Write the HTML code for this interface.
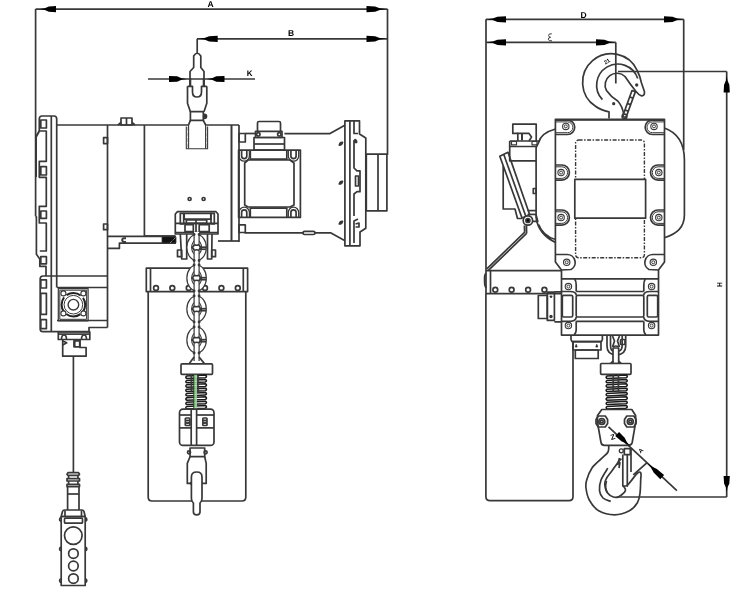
<!DOCTYPE html>
<html><head><meta charset="utf-8"><style>
html,body{margin:0;padding:0;background:#fff;}
text{text-rendering:geometricPrecision;}
svg{display:block;will-change:transform;}
</style></head><body>
<svg width="750" height="599" viewBox="0 0 750 599" font-family="'Liberation Sans', sans-serif">
<g fill="none" stroke="#383838" stroke-width="1.7" stroke-linejoin="round">
<line x1="35.6" y1="9.1" x2="387.5" y2="9.1"/>
<path d="M40.00,9.10 L44.80,8.32 L48.80,6.46 L56.00,6.00 L56.00,12.20 L48.80,11.73 L44.80,9.88 Z" fill="#000" stroke="none"/>
<path d="M385.50,9.10 L379.80,9.88 L375.05,11.73 L366.50,12.20 L366.50,6.00 L375.05,6.46 L379.80,8.32 Z" fill="#000" stroke="none"/>
<text fill="#000" stroke="none" font-weight="bold" x="207.5" y="6.5" font-size="8.5" >A</text>
<line x1="387.5" y1="9" x2="387.5" y2="155"/>
<line x1="197" y1="38.8" x2="387.5" y2="38.8"/>
<path d="M198.70,38.80 L204.40,38.02 L209.15,36.16 L217.70,35.70 L217.70,41.90 L209.15,41.43 L204.40,39.57 Z" fill="#000" stroke="none"/>
<path d="M385.50,38.80 L379.80,39.57 L375.05,41.43 L366.50,41.90 L366.50,35.70 L375.05,36.16 L379.80,38.02 Z" fill="#000" stroke="none"/>
<text fill="#000" stroke="none" font-weight="bold" x="288" y="36" font-size="8.5" >B</text>
<line x1="197.2" y1="38.8" x2="197.2" y2="53"/>
<line x1="148" y1="79" x2="255" y2="79"/>
<path d="M187.00,79.00 L181.60,79.78 L177.10,81.64 L169.00,82.10 L169.00,75.90 L177.10,76.36 L181.60,78.22 Z" fill="#000" stroke="none"/>
<path d="M206.50,79.00 L211.90,78.22 L216.40,76.36 L224.50,75.90 L224.50,82.10 L216.40,81.64 L211.90,79.78 Z" fill="#000" stroke="none"/>
<text fill="#000" stroke="none" font-weight="bold" x="246.8" y="76.2" font-size="8" >K</text>
<path d="M190,86 L190,71.5 L193.7,67.5 L193.7,56 Q197.2,50.5 200.8,56 L200.8,67.5 L204,71.5 L204,86" />
<path d="M187.5,86.3 L192.5,86.3 L192.5,92 Q192.5,97 197,97 Q201.5,97 201.5,92 L201.5,86.3 L206.8,86.3" />
<line x1="190.2" y1="78" x2="190.2" y2="86" stroke-width="2.2"/>
<line x1="203.8" y1="78" x2="203.8" y2="86" stroke-width="2.2"/>
<path d="M187.5,86.3 L187.5,103.3 L190.4,111.7 M206.8,86.3 L206.8,103.3 L204,111.7" />
<rect x="190.4" y="111.7" width="12.9" height="8.7" />
<path d="M204.5,114.3 A2,2 0 0 1 204.5,118.3 Z" fill="#000"/>
<path d="M190.4,120.4 L188.5,125 M203.3,120.4 L205.7,125" />
<path d="M186.3,126.5 L186.3,148.7 L207.6,148.7 L207.6,126.5" stroke-width="1.1"/>
<line x1="188.6" y1="125" x2="188.6" y2="148.7" stroke-width="1.1"/>
<line x1="205.6" y1="125" x2="205.6" y2="148.7" stroke-width="1.1"/>
<line x1="187.45" y1="127" x2="187.45" y2="148" stroke-width="0.5" stroke="#888" stroke-dasharray="4 1.5"/>
<line x1="206.6" y1="127" x2="206.6" y2="148" stroke-width="0.5" stroke="#888" stroke-dasharray="4 1.5"/>
<path d="M39.3,131 L39.3,119 Q39.3,116 42,116 L54,116 Q56.7,116 56.7,119 L56.7,287.5" />
<line x1="51.3" y1="116" x2="51.3" y2="332"/>
<line x1="35.6" y1="9" x2="35.6" y2="216.3"/>
<path d="M35.6,216.3 L36.4,217 L36.4,254.3 L39.8,259 L39.8,266.3 L46,266.3 L46,276" />
<path d="M39.3,131 L36,137 L36,177" stroke-width="2"/>
<rect x="40.8" y="120" width="5.6" height="8" />
<rect x="40.8" y="166.7" width="5.6" height="8.3" />
<rect x="40.8" y="211" width="5.6" height="7.3" />
<rect x="40.8" y="256.7" width="5.6" height="7.1" />
<rect x="40.8" y="279.8" width="5.6" height="8.2" />
<rect x="40.8" y="319.7" width="5.6" height="9.0" />
<rect x="40.8" y="293.3" width="5.6" height="21.1" />
<path d="M39.3,131 L46.3,131 L46.3,161.3 L39.3,161.3 L39.3,177.3 L46.3,177.3 L46.3,206.3 L39.3,206.3 L39.3,223 L46.3,223 L46.3,251 L39.8,251" />
<line x1="57" y1="125" x2="188.5" y2="125"/>
<line x1="205.7" y1="125" x2="239" y2="125"/>
<line x1="107.5" y1="125" x2="107.5" y2="327.5"/>
<line x1="144.4" y1="125" x2="144.4" y2="236"/>
<line x1="231.5" y1="125" x2="231.5" y2="241" stroke-width="2"/>
<line x1="239" y1="125" x2="239" y2="242"/>
<line x1="144.4" y1="236" x2="175" y2="236"/>
<line x1="218" y1="241" x2="239" y2="241"/>
<rect x="121" y="118" width="11" height="7" />
<line x1="126.5" y1="118" x2="126.5" y2="125"/>
<path d="M118,125 L121,122.5 M132,122.5 L135,125" />
<rect x="103.6" y="137.6" width="3.9" height="6.0" />
<rect x="103.6" y="224" width="3.9" height="5.7" />
<circle cx="189.6" cy="199" r="1.5" />
<circle cx="203.6" cy="199" r="1.5" />
<line x1="57" y1="287.5" x2="107.5" y2="287.5"/>
<path d="M40.2,279 Q40.2,276 43,276 L107.5,276 M40.2,279 L40.2,329 Q40.2,331.7 43,331.7 L89,331.7 L89,327.5 L107.5,327.5" />
<line x1="57" y1="320.5" x2="107.5" y2="320.5"/>
<rect x="58.3" y="288.7" width="29.8" height="32.1" stroke-width="1.2"/>
<rect x="59.8" y="290.2" width="26.8" height="29.1" stroke-width="1"/>
<circle cx="73.4" cy="304.7" r="11.8" stroke-width="2" stroke="#222" stroke-dasharray="15.2 3.3" stroke-dashoffset="7.6"/>
<circle cx="73.4" cy="304.7" r="9.3" stroke-width="1"/>
<circle cx="73.4" cy="304.7" r="5.3" stroke-width="1.4"/>
<circle cx="63.4" cy="293.4" r="2.5" fill="#fff" stroke-width="1.1"/>
<circle cx="83.4" cy="293.4" r="2.5" fill="#fff" stroke-width="1.1"/>
<circle cx="63.4" cy="313.4" r="2.5" fill="#fff" stroke-width="1.1"/>
<circle cx="83.4" cy="313.4" r="2.5" fill="#fff" stroke-width="1.1"/>
<rect x="58.3" y="331.9" width="31.5" height="7.6" />
<line x1="58.3" y1="334.1" x2="89.8" y2="334.1"/>
<path d="M61.5,339.5 Q61.5,335 64,335 Q66.5,335 66.5,339.5 M81.5,339.5 Q81.5,335 84,335 Q86.5,335 86.5,339.5" />
<path d="M62.7,339.5 L62.7,356.2 L86.1,356.2 L86.1,347.5 L80,347.5 L80,339.5" />
<rect x="74" y="340.8" width="5.7" height="6.0" />
<line x1="74.6" y1="340.8" x2="74.6" y2="346.8" stroke-width="2"/>
<path d="M62.7,341 L66.7,342.8 L62.7,345" />
<line x1="73.4" y1="356.2" x2="73.4" y2="472"/>
<path d="M68,475.3 L67,474.3 L68,472.6 L78.5,472.6 L79.5,474.3 L78.5,475.3 Z" />
<path d="M68.6,475.3 L68.6,478.6 M77.9,475.3 L77.9,478.6" />
<path d="M67,478.6 L79.5,478.6 L79.5,481 L67,481 Z" />
<path d="M68.6,481 L68.6,484.4 M77.9,481 L77.9,484.4" />
<path d="M67,484.4 L79.5,484.4 L79.5,486.6 L67,486.6 Z" />
<path d="M67.6,486.6 L67.6,510 M79,486.6 L79,510" />
<line x1="67.6" y1="494" x2="79" y2="494"/>
<path d="M61.2,516.5 L62.5,511.5 Q63,510 64.5,510 L82,510 Q83.5,510 84,511.5 L85.2,516.5 Z" />
<line x1="65" y1="510.5" x2="65" y2="516.5"/>
<line x1="81.5" y1="510.5" x2="81.5" y2="516.5"/>
<rect x="61.2" y="516.5" width="24.0" height="69.0" />
<rect x="64.5" y="518.2" width="18.0" height="5.0" rx="1"/>
<circle cx="73.3" cy="535.6" r="8.8" />
<circle cx="73.4" cy="553.6" r="4.8" />
<circle cx="73.4" cy="566" r="4.8" />
<circle cx="73.4" cy="578.6" r="4.8" />
<path d="M61.2,517.9 A1.6,1.6 0 0 0 61.2,521.1" />
<path d="M85.2,517.9 A1.6,1.6 0 0 1 85.2,521.1" />
<path d="M61.2,547.4 A1.6,1.6 0 0 0 61.2,550.6" />
<path d="M85.2,547.4 A1.6,1.6 0 0 1 85.2,550.6" />
<path d="M61.2,579.1 A1.6,1.6 0 0 0 61.2,582.3000000000001" />
<path d="M85.2,579.1 A1.6,1.6 0 0 1 85.2,582.3000000000001" />
<line x1="107.5" y1="236.4" x2="176" y2="236.4"/>
<path d="M107.5,248.4 L119.4,248.4 L119.4,243.2 L176,243.2" />
<path d="M162,236.8 L176,236.8 L176,243 L162,243 Z" fill="#111" stroke-width="0.8"/>
<path d="M170,243 L176,237" stroke="#fff" stroke-width="0.7" stroke-dasharray="1 1"/>
<path d="M126,238.2 Q122.2,237.8 122.2,240 Q122.2,242.2 126,242" stroke-width="2"/>
<rect x="239" y="133.5" width="6.3" height="8.5" />
<rect x="239" y="224.9" width="6.3" height="7.6" />
<line x1="245.3" y1="133.5" x2="255.5" y2="133.5"/>
<path d="M257.5,131.5 L257.5,123 Q257.5,121.5 259,121.5 L279,121.5 Q280.5,121.5 280.5,123 L280.5,131.5" />
<rect x="255.5" y="131.3" width="26.5" height="6.2" />
<circle cx="258.3" cy="134.3" r="1.7" />
<circle cx="279.3" cy="134.3" r="1.7" />
<rect x="254" y="137.5" width="30.5" height="12.5" />
<line x1="254" y1="144" x2="284.5" y2="144"/>
<rect x="238.6" y="150.2" width="61.8" height="67.2" />
<path d="M244.7,163 L244.7,205 L248,207 L290,207 L294,205 L294,163 L290,160 L248,160 Z" />
<path d="M250.3,150.2 L250.3,159.2 L286.8,159.2 L286.8,150.2" />
<path d="M250.3,217.4 L250.3,208.2 L286.8,208.2 L286.8,217.4" />
<path d="M241.6,150.2 L241.6,156 A2.6,2.6 0 0 0 246.79999999999998,156 L246.79999999999998,150.2" />
<path d="M239.0,150.2 L239.0,156 A5.2,5.2 0 0 0 249.39999999999998,156 L249.39999999999998,150.2" stroke-width="1.3"/>
<path d="M290.9,150.2 L290.9,156 A2.6,2.6 0 0 0 296.1,156 L296.1,150.2" />
<path d="M288.3,150.2 L288.3,156 A5.2,5.2 0 0 0 298.7,156 L298.7,150.2" stroke-width="1.3"/>
<path d="M241.6,217.4 L241.6,212.4 A2.6,2.6 0 0 1 246.79999999999998,212.4 L246.79999999999998,217.4" />
<path d="M239.0,217.4 L239.0,212.4 A5.2,5.2 0 0 1 249.39999999999998,212.4 L249.39999999999998,217.4" stroke-width="1.3"/>
<path d="M290.9,217.4 L290.9,212.4 A2.6,2.6 0 0 1 296.1,212.4 L296.1,217.4" />
<path d="M288.3,217.4 L288.3,212.4 A5.2,5.2 0 0 1 298.7,212.4 L298.7,217.4" stroke-width="1.3"/>
<path d="M284.4,133.7 L329.6,133.7 L344.8,125.2" />
<path d="M244.6,232.9 L331,232.9 L345,240.7" />
<rect x="303" y="231.3" width="12" height="3.2" rx="1.6" fill="#fff"/>
<path d="M344.9,120.9 L359.5,120.9 L359.5,134 L365.8,138 L365.8,228.3 L360,232 L360,245.8 L344.9,245.8 Z" />
<line x1="349.9" y1="120.9" x2="349.9" y2="245.8"/>
<rect x="366.3" y="154.2" width="20.6" height="56.6" />
<line x1="378" y1="154.2" x2="378" y2="210.8"/>
<path d="M354,121 L354,133.5 L358,133.5 M354,140 L354,168 L357,170.8 L360,170.8 L360,191.7 L357,191.7 L354,194 L354,216 M358,219 L354,221 L354,243" />
<rect x="355.5" y="176" width="3.0" height="10" />
<path d="M355.5,224 L359,223 L359,227 L355.5,227" />
<path d="M339.3,145.1 Q340,142.1 342.5,142.4 Q342,145.1 339.3,145.1 Z" />
<path d="M339.3,184.0 Q340,181.0 342.5,181.3 Q342,184.0 339.3,184.0 Z" />
<path d="M339.3,224.0 Q340,221.0 342.5,221.3 Q342,224.0 339.3,224.0 Z" />
<path d="M355,139.5 Q357,140.5 356.5,142.5 L355,142.5 Z" />
<path d="M175.3,234 L175.3,214 L177.5,211.7 L216,211.7 L218,214 L218,234 Z" />
<rect x="184.2" y="213.3" width="26.6" height="5.9" />
<rect x="186.3" y="220" width="20.4" height="3.3" />
<line x1="175.3" y1="223.3" x2="218" y2="223.3"/>
<rect x="185" y="224.7" width="8.3" height="7.0" />
<rect x="199.2" y="224.7" width="10.0" height="7.0" />
<line x1="196" y1="219.5" x2="196" y2="232.5"/>
<line x1="175.3" y1="232.5" x2="218" y2="232.5"/>
<rect x="180.3" y="213.3" width="3.4" height="10.7" />
<rect x="211" y="213.3" width="3.3" height="10.7" />
<path d="M180.3,234 L181.7,259 L186.7,259 L186.7,234" />
<path d="M212,234 L211.7,259 L207.5,259 L207.5,234" />
<rect x="177.5" y="250" width="4.2" height="6.7" />
<rect x="211.7" y="250" width="3.8" height="6.7" />
<path d="M148.2,291.6 L148.2,497 Q148.2,501 152,501 L242,501 Q245.8,501 245.8,497 L245.8,291.6" />
<rect x="146.3" y="268.2" width="101.3" height="23.4" />
<line x1="150.5" y1="268.2" x2="150.5" y2="291.6"/>
<line x1="243.3" y1="268.2" x2="243.3" y2="291.6"/>
<circle cx="156" cy="288" r="2.4" />
<circle cx="172.3" cy="288" r="2.4" />
<circle cx="188.7" cy="288" r="2.4" />
<circle cx="205" cy="288" r="2.4" />
<circle cx="221.4" cy="288" r="2.4" />
<circle cx="237.8" cy="288" r="2.4" />
<ellipse cx="196.6" cy="247.5" rx="9.75" ry="13" fill="#fff" stroke-width="1.2"/>
<ellipse cx="196.6" cy="247.5" rx="4.9" ry="7.5" stroke-width="1.1"/>
<ellipse cx="196.6" cy="278" rx="9.75" ry="13" fill="#fff" stroke-width="1.2"/>
<ellipse cx="196.6" cy="278" rx="4.9" ry="7.5" stroke-width="1.1"/>
<ellipse cx="196.6" cy="309" rx="9.75" ry="13" fill="#fff" stroke-width="1.2"/>
<ellipse cx="196.6" cy="309" rx="4.9" ry="7.5" stroke-width="1.1"/>
<ellipse cx="196.6" cy="340" rx="9.75" ry="13" fill="#fff" stroke-width="1.2"/>
<ellipse cx="196.6" cy="340" rx="4.9" ry="7.5" stroke-width="1.1"/>
<rect x="194.1" y="232" width="5.0" height="128" fill="#fff" stroke="none"/>
<line x1="194.1" y1="235" x2="194.1" y2="244.5" stroke-width="1.2"/>
<line x1="199.1" y1="235" x2="199.1" y2="244.5" stroke-width="1.2"/>
<line x1="194.1" y1="250.5" x2="194.1" y2="275" stroke-width="1.2"/>
<line x1="199.1" y1="250.5" x2="199.1" y2="275" stroke-width="1.2"/>
<line x1="194.1" y1="281" x2="194.1" y2="306" stroke-width="1.2"/>
<line x1="199.1" y1="281" x2="199.1" y2="306" stroke-width="1.2"/>
<line x1="194.1" y1="312" x2="194.1" y2="337" stroke-width="1.2"/>
<line x1="199.1" y1="312" x2="199.1" y2="337" stroke-width="1.2"/>
<line x1="194.1" y1="343" x2="194.1" y2="361" stroke-width="1.2"/>
<line x1="199.1" y1="343" x2="199.1" y2="361" stroke-width="1.2"/>
<path d="M194.1,244.5 Q194.1,246.5 191.9,247.5 Q194.1,248.5 194.1,250.5" />
<path d="M199.1,244.5 Q199.1,246.5 201.4,247.5 Q199.1,248.5 199.1,250.5" />
<path d="M194.1,244.5 Q196.6,246.0 199.1,244.5 M194.1,250.5 Q196.6,249.0 199.1,250.5" />
<line x1="199.5" y1="247.2" x2="206" y2="247.2"/>
<line x1="199.5" y1="249.2" x2="206" y2="249.2"/>
<circle cx="194.1" cy="234.5" r="0.6" fill="#000"/>
<circle cx="199.1" cy="234.5" r="0.6" fill="#000"/>
<circle cx="194.1" cy="260.5" r="0.6" fill="#000"/>
<circle cx="199.1" cy="260.5" r="0.6" fill="#000"/>
<path d="M194.1,275 Q194.1,277 191.9,278 Q194.1,279 194.1,281" />
<path d="M199.1,275 Q199.1,277 201.4,278 Q199.1,279 199.1,281" />
<path d="M194.1,275 Q196.6,276.5 199.1,275 M194.1,281 Q196.6,279.5 199.1,281" />
<line x1="199.5" y1="277.7" x2="206" y2="277.7"/>
<line x1="199.5" y1="279.7" x2="206" y2="279.7"/>
<circle cx="194.1" cy="265" r="0.6" fill="#000"/>
<circle cx="199.1" cy="265" r="0.6" fill="#000"/>
<circle cx="194.1" cy="291" r="0.6" fill="#000"/>
<circle cx="199.1" cy="291" r="0.6" fill="#000"/>
<path d="M194.1,306 Q194.1,308 191.9,309 Q194.1,310 194.1,312" />
<path d="M199.1,306 Q199.1,308 201.4,309 Q199.1,310 199.1,312" />
<path d="M194.1,306 Q196.6,307.5 199.1,306 M194.1,312 Q196.6,310.5 199.1,312" />
<line x1="199.5" y1="308.7" x2="206" y2="308.7"/>
<line x1="199.5" y1="310.7" x2="206" y2="310.7"/>
<circle cx="194.1" cy="296" r="0.6" fill="#000"/>
<circle cx="199.1" cy="296" r="0.6" fill="#000"/>
<circle cx="194.1" cy="322" r="0.6" fill="#000"/>
<circle cx="199.1" cy="322" r="0.6" fill="#000"/>
<path d="M194.1,337 Q194.1,339 191.9,340 Q194.1,341 194.1,343" />
<path d="M199.1,337 Q199.1,339 201.4,340 Q199.1,341 199.1,343" />
<path d="M194.1,337 Q196.6,338.5 199.1,337 M194.1,343 Q196.6,341.5 199.1,343" />
<line x1="199.5" y1="339.7" x2="206" y2="339.7"/>
<line x1="199.5" y1="341.7" x2="206" y2="341.7"/>
<circle cx="194.1" cy="327" r="0.6" fill="#000"/>
<circle cx="199.1" cy="327" r="0.6" fill="#000"/>
<circle cx="194.1" cy="353" r="0.6" fill="#000"/>
<circle cx="199.1" cy="353" r="0.6" fill="#000"/>
<path d="M194.1,357 L189,363.9 M199.1,357 L204.6,363.9" />
<rect x="181" y="363.9" width="31.5" height="10.4" fill="#fff" rx="1"/>
<path d="M187.1,378.5 Q184.79999999999998,377.7 186.6,376.1 L205.7,375.1 Q207.5,376.7 205.2,377.7 Z" stroke-width="1.5" stroke="#1a1a1a"/>
<path d="M187.1,382.85 Q184.79999999999998,382.05 186.6,380.45000000000005 L205.7,379.45000000000005 Q207.5,381.05 205.2,382.05 Z" stroke-width="1.5" stroke="#1a1a1a"/>
<path d="M187.1,387.2 Q184.79999999999998,386.4 186.6,384.8 L205.7,383.8 Q207.5,385.4 205.2,386.4 Z" stroke-width="1.5" stroke="#1a1a1a"/>
<path d="M187.1,391.55 Q184.79999999999998,390.75 186.6,389.15000000000003 L205.7,388.15000000000003 Q207.5,389.75 205.2,390.75 Z" stroke-width="1.5" stroke="#1a1a1a"/>
<path d="M187.1,395.9 Q184.79999999999998,395.09999999999997 186.6,393.5 L205.7,392.5 Q207.5,394.09999999999997 205.2,395.09999999999997 Z" stroke-width="1.5" stroke="#1a1a1a"/>
<path d="M187.1,400.25 Q184.79999999999998,399.45 186.6,397.85 L205.7,396.85 Q207.5,398.45 205.2,399.45 Z" stroke-width="1.5" stroke="#1a1a1a"/>
<path d="M187.1,404.6 Q184.79999999999998,403.8 186.6,402.20000000000005 L205.7,401.20000000000005 Q207.5,402.8 205.2,403.8 Z" stroke-width="1.5" stroke="#1a1a1a"/>
<path d="M187.1,408.95 Q184.79999999999998,408.15 186.6,406.55 L205.7,405.55 Q207.5,407.15 205.2,408.15 Z" stroke-width="1.5" stroke="#1a1a1a"/>
<line x1="191.4" y1="374.3" x2="191.4" y2="391.7"/>
<line x1="198" y1="374.3" x2="198" y2="391.7"/>
<rect x="194.0" y="374.8" width="3" height="35.3" fill="#a5dca5" stroke="none" opacity="0.85"/>
<line x1="193.8" y1="374.3" x2="193.8" y2="410.1" stroke="#1d4d1d" stroke-width="1"/>
<rect x="179.5" y="409.2" width="34.5" height="36.2" rx="3.5"/>
<line x1="179.5" y1="415" x2="191.2" y2="415"/>
<line x1="196.6" y1="415" x2="214" y2="415"/>
<line x1="179.5" y1="427.9" x2="191.2" y2="427.9"/>
<line x1="196.6" y1="427.9" x2="214" y2="427.9"/>
<line x1="191.2" y1="409.2" x2="191.2" y2="445.4"/>
<line x1="196.6" y1="409.2" x2="196.6" y2="445.4"/>
<rect x="185.3" y="418.0" width="4.6" height="2.5" rx="0.8"/>
<rect x="185.3" y="420.5" width="4.6" height="2.5" rx="0.8"/>
<rect x="185.3" y="423.0" width="4.6" height="2.5" rx="0.8"/>
<rect x="202.8" y="418.0" width="4.2" height="2.5" rx="0.8"/>
<rect x="202.8" y="420.5" width="4.2" height="2.5" rx="0.8"/>
<rect x="202.8" y="423.0" width="4.2" height="2.5" rx="0.8"/>
<rect x="190" y="448" width="14.7" height="8.7" />
<circle cx="189" cy="452.3" r="1.5" />
<circle cx="205.6" cy="452.3" r="1.5" />
<path d="M190,456.7 L187.3,463.4 L187.3,483.4 L191.4,483.4 M204.7,456.7 L206.2,463.4 L206.2,483.4 L202,483.4" />
<path d="M191.4,483.4 L191.4,477 Q191.4,472 196.7,472 Q202,472 202,477 L202,498.5 Q202,501 200,503 L200,512 Q200,514.8 196.7,514.8 Q193.4,514.8 193.4,512 L193.4,503 Q191.4,501 191.4,498.5 Z" fill="#fff"/>
<path d="M191.4,485 L190.5,482" stroke-width="1.6"/>
<line x1="486" y1="19.3" x2="683.7" y2="19.3"/>
<path d="M487.00,19.30 L492.70,18.53 L497.45,16.66 L506.00,16.20 L506.00,22.40 L497.45,21.94 L492.70,20.07 Z" fill="#000" stroke="none"/>
<path d="M683.00,19.30 L677.30,20.07 L672.55,21.94 L664.00,22.40 L664.00,16.20 L672.55,16.66 L677.30,18.53 Z" fill="#000" stroke="none"/>
<text fill="#000" stroke="none" font-weight="bold" x="580.5" y="17.6" font-size="8.5" >D</text>
<line x1="486" y1="19.3" x2="486" y2="294"/>
<line x1="683.7" y1="19.3" x2="683.7" y2="150"/>
<line x1="486" y1="42.3" x2="615.8" y2="42.3"/>
<path d="M487.00,42.30 L492.70,41.52 L497.45,39.66 L506.00,39.20 L506.00,45.40 L497.45,44.93 L492.70,43.07 Z" fill="#000" stroke="none"/>
<path d="M615.00,42.30 L609.30,43.07 L604.55,44.93 L596.00,45.40 L596.00,39.20 L604.55,39.66 L609.30,41.52 Z" fill="#000" stroke="none"/>
<path d="M551.8,33.8 Q548.6,33.2 548.6,35.6 Q548.6,37.1 550.6,37.3 M550.6,37.3 Q548.3,37.5 548.3,39.2 Q548.5,41.2 552,40.9" stroke-width="1"/>
<line x1="615.8" y1="42.3" x2="615.8" y2="83.5"/>
<line x1="618" y1="71.5" x2="726.7" y2="71.5"/>
<line x1="726.7" y1="71.5" x2="726.7" y2="497"/>
<path d="M726.70,75.50 L727.48,80.60 L729.34,84.85 L729.80,92.50 L723.60,92.50 L724.07,84.85 L725.93,80.60 Z" fill="#000" stroke="none"/>
<path d="M726.70,492.50 L725.93,487.55 L724.07,483.43 L723.60,476.00 L729.80,476.00 L729.34,483.43 L727.48,487.55 Z" fill="#000" stroke="none"/>
<line x1="616.6" y1="497" x2="726.7" y2="497"/>
<text fill="#000" stroke="none" font-weight="bold" x="0" y="0" font-size="7.5" transform="translate(717.3,282.3) rotate(90) scale(0.85,1)">H</text>
<path d="M609,118.4 L609,111.8 Q601,110.5 595.5,106.3 A28.6,28.6 0 1 1 637.2,70.5 Q640,76 641.5,83 L644.4,91.5 Q645,96 641.5,95.8 Q639,95.3 636,91.5 Q630,84 625,76.5 A11.75,11.75 0 0 0 606.5,90.5 Q611,97 617.7,101 Q622.4,106 623.7,114.4" />
<path d="M602.4,99.7 A21.1,21.1 0 1 1 637.7,78.4" />
<text fill="#000" stroke="none" font-weight="bold" x="0" y="0" font-size="5.5" transform="translate(605.5,64.5) rotate(-32)">21</text>
<path d="M622.6,116.5 L632,90.5 L635.4,91.6 L626,117.5 Z" fill="#fff"/>
<line x1="624.95" y1="110.0" x2="628.35" y2="111.1"/>
<line x1="627.3" y1="103.5" x2="630.7" y2="104.6"/>
<line x1="629.65" y1="97.0" x2="633.05" y2="98.1"/>
<circle cx="624.5" cy="116.5" r="2.3" />
<circle cx="613.7" cy="103.7" r="0.8" fill="#000"/>
<circle cx="636.7" cy="85" r="0.8" fill="#000"/>
<path d="M555.4,119.3 L664.5,119.3 L664.5,262 L658.5,270 L658.5,335.1 L561.5,335.1 L561.5,270 L555.4,262 Z" />
<line x1="555.4" y1="119.8" x2="664.5" y2="119.8"/>
<path d="M555.5,129 Q541,133 538.7,142.3 L536.1,147.6 L536.1,218" />
<path d="M536.1,218 Q538.5,234 555.5,242.5 M538.6,224.5 Q543,236 555.5,239.5" />
<path d="M664.3,128 Q684.4,135 684.4,160 L684.4,215 Q684.4,232 664.3,237.7" />
<path d="M555.4,120.1 L567.5,120.1 A7.2,7.2 0 0 1 567.5,134.5 L555.4,134.5" />
<path d="M555.4,121.89999999999999 L567.5,121.89999999999999 A5.4,5.4 0 0 1 567.5,132.7 L555.4,132.7" stroke-width="1"/>
<circle cx="565.8" cy="126.4" r="3.2" stroke-width="1.1"/>
<circle cx="565.8" cy="126.4" r="1.5" stroke-width="1"/>
<path d="M664.5,120.1 L652.4,120.1 A7.2,7.2 0 0 0 652.4,134.5 L664.5,134.5" />
<path d="M664.5,121.89999999999999 L652.4,121.89999999999999 A5.4,5.4 0 0 0 652.4,132.7 L664.5,132.7" stroke-width="1"/>
<circle cx="654" cy="126.4" r="3.2" stroke-width="1.1"/>
<circle cx="654" cy="126.4" r="1.5" stroke-width="1"/>
<path d="M555.4,165.0 L561.8,165.0 A7.6,7.6 0 0 1 561.8,180.2 L555.4,180.2" />
<path d="M555.4,166.8 L561.8,166.8 A5.8,5.8 0 0 1 561.8,178.39999999999998 L555.4,178.39999999999998" stroke-width="1"/>
<circle cx="561.1" cy="172.6" r="3.2" stroke-width="1.1"/>
<circle cx="561.1" cy="172.6" r="1.5" stroke-width="1"/>
<path d="M664.5,165.0 L658.1,165.0 A7.6,7.6 0 0 0 658.1,180.2 L664.5,180.2" />
<path d="M664.5,166.8 L658.1,166.8 A5.8,5.8 0 0 0 658.1,178.39999999999998 L664.5,178.39999999999998" stroke-width="1"/>
<circle cx="658.8" cy="172.6" r="3.2" stroke-width="1.1"/>
<circle cx="658.8" cy="172.6" r="1.5" stroke-width="1"/>
<path d="M555.4,210.0 L561.8,210.0 A7.6,7.6 0 0 1 561.8,225.2 L555.4,225.2" />
<path d="M555.4,211.8 L561.8,211.8 A5.8,5.8 0 0 1 561.8,223.39999999999998 L555.4,223.39999999999998" stroke-width="1"/>
<circle cx="561.1" cy="217.6" r="3.2" stroke-width="1.1"/>
<circle cx="561.1" cy="217.6" r="1.5" stroke-width="1"/>
<path d="M664.5,210.0 L658.1,210.0 A7.6,7.6 0 0 0 658.1,225.2 L664.5,225.2" />
<path d="M664.5,211.8 L658.1,211.8 A5.8,5.8 0 0 0 658.1,223.39999999999998 L664.5,223.39999999999998" stroke-width="1"/>
<circle cx="658.8" cy="217.6" r="3.2" stroke-width="1.1"/>
<circle cx="658.8" cy="217.6" r="1.5" stroke-width="1"/>
<path d="M555.4,254.5 L567,254.5 A8,8 0 0 1 571,269.5 L561.5,270" />
<path d="M664.5,254.5 L653,254.5 A8,8 0 0 0 649,269.5 L658.5,270" />
<circle cx="566.7" cy="262.3" r="3.2" stroke-width="1.1"/>
<circle cx="566.7" cy="262.3" r="1.5" stroke-width="1"/>
<circle cx="653.3" cy="262.3" r="3.2" stroke-width="1.1"/>
<circle cx="653.3" cy="262.3" r="1.5" stroke-width="1"/>
<rect x="575.6" y="140" width="68.8" height="117.8" rx="3" stroke-width="1.4" stroke-dasharray="4 1.5 1.5 1.5"/>
<rect x="574.8" y="179.4" width="70.8" height="38.8" fill="#fff"/>
<path d="M518,133.4 L512.8,133.4 L512.8,124.1 L536.2,124.1 L536.2,141" />
<path d="M517.8,141 L517.8,133.4 L529,133.4 L531.5,137 L529,141" />
<line x1="522" y1="134" x2="522" y2="140.5" stroke-width="2"/>
<path d="M509.7,141 L538.7,141 L538.7,142.3 M509.7,141 L509.7,146.5 L536.6,146.5" />
<rect x="511.5" y="141.5" width="5.0" height="3.3" stroke-width="1.2"/>
<rect x="532" y="141.5" width="5" height="3.3" stroke-width="1.2"/>
<path d="M509.7,146.5 L509.7,160.8 L536.1,160.8" />
<path d="M499.8,156.2 L508,152.3 L529.7,214.7 L522,218 Z" />
<line x1="503.8" y1="154.5" x2="525.8" y2="216.3"/>
<path d="M503.2,166 L503.2,209 L515,209 L517.5,218.5 L522,218.5" />
<line x1="527.6" y1="210.6" x2="536" y2="210.6"/>
<line x1="527.6" y1="214.4" x2="536" y2="214.4"/>
<path d="M532,221.4 L537.8,221.4 L536,214.4" />
<rect x="533.3" y="188.5" width="2.8" height="5.0" />
<circle cx="527.9" cy="220.5" r="4.7" fill="#fff"/>
<circle cx="527.9" cy="220.5" r="2" fill="#000"/>
<path d="M524.4,225.5 L524.6,231.9 M526.5,225.5 L526.6,233.4" />
<path d="M486.8,268.9 L525,231.9 M488.4,270.4 L526.6,233.4" />
<path d="M486,270.7 L561.4,270.7 M486,293.7 L561.4,293.7" />
<line x1="490.5" y1="270.7" x2="490.5" y2="293.7"/>
<circle cx="495.3" cy="289.8" r="2.4" />
<circle cx="511.6" cy="289.8" r="2.4" />
<circle cx="528.1" cy="289.8" r="2.4" />
<circle cx="544.4" cy="289.8" r="2.4" />
<path d="M486,273.5 Q484.3,275 484.6,280 Q484.3,285 486,288" stroke-width="1.8"/>
<path d="M485.9,294 L485.9,496.5 Q485.9,500.6 490,500.6 L569,500.6 Q573,500.6 573,496.5 L573,342" />
<line x1="561.5" y1="278.8" x2="658.5" y2="278.8"/>
<line x1="576.2" y1="291.5" x2="643.8" y2="291.5"/>
<line x1="576.2" y1="321.3" x2="643.8" y2="321.3"/>
<rect x="576.2" y="295.3" width="67.6" height="21.7" rx="1.5"/>
<rect x="562.3" y="295.3" width="10.4" height="21.7" rx="1.5"/>
<rect x="647.3" y="295.3" width="10.4" height="21.7" rx="1.5"/>
<path d="M574.5,278.8 Q576.2,281 576.2,285 L576.2,291.5 M645.5,278.8 Q643.8,281 643.8,285 L643.8,291.5" />
<path d="M561.5,291.5 L570,291.5 Q576.2,291.5 576.2,295.3 M658.5,291.5 L650,291.5 Q643.8,291.5 643.8,295.3" />
<path d="M561.5,321.3 L570,321.3 Q576.2,321.3 576.2,317 M658.5,321.3 L650,321.3 Q643.8,321.3 643.8,317" />
<path d="M576.2,321.3 L576.2,330 Q576.2,333 574,335.1 M643.8,321.3 L643.8,330 Q643.8,333 646,335.1" />
<circle cx="568.4" cy="286.6" r="3.2" stroke-width="1.1"/>
<circle cx="568.4" cy="286.6" r="1.5" stroke-width="1"/>
<circle cx="651.6" cy="286.6" r="3.2" stroke-width="1.1"/>
<circle cx="651.6" cy="286.6" r="1.5" stroke-width="1"/>
<circle cx="568.4" cy="325.6" r="3.2" stroke-width="1.1"/>
<circle cx="568.4" cy="325.6" r="1.5" stroke-width="1"/>
<circle cx="651.6" cy="325.6" r="3.2" stroke-width="1.1"/>
<circle cx="651.6" cy="325.6" r="1.5" stroke-width="1"/>
<rect x="538.3" y="295.5" width="9.0" height="23.0" />
<rect x="547.3" y="292.1" width="7.1" height="28.2" />
<path d="M554.4,291.8 L561.5,291.8 M554.4,321.8 L561.5,321.8" />
<path d="M549.8,296 L552.2,296 L551,298 Z" fill="#000" stroke-width="0.8"/>
<circle cx="551" cy="316.5" r="0.9" fill="#000"/>
<path d="M571,335.1 L571,339.5 L572,341.7 L601.4,341.7 L602.4,339.5 L602.4,335.1" />
<rect x="573" y="341.7" width="28" height="8.3" />
<path d="M575.2,347 L576.2,344.3 L577.2,347 Z M595.8,347 L596.8,344.3 L597.8,347 Z" fill="#000" stroke-width="0.8"/>
<rect x="575.3" y="350" width="22.9" height="8.5" />
<path d="M607,335.1 L607,346 Q607,354.8 616.3,354.8 Q625.7,354.8 625.7,346 L625.7,335.1" />
<path d="M610.5,335.1 L610.5,345 Q610.5,350.5 613,351 M622.2,335.1 L622.2,345 Q622.2,350.5 618.7,351" />
<rect x="613" y="348" width="5.7" height="15.6" fill="#fff"/>
<path d="M612.5,336 L614.5,341 L612.5,347 M619.5,336 L617.5,341 L619.5,347" />
<path d="M613,347 Q616,345 618.7,347" />
<rect x="620.5" y="339.5" width="4.5" height="5.0" rx="1"/>
<path d="M613,361 L610.5,363.6 M618.7,361 L621.2,363.6" />
<rect x="600.6" y="363.5" width="30.4" height="10.8" fill="#fff" rx="1"/>
<path d="M607.4,378.5 Q605.1,377.7 606.9,376.1 L626.5,375.1 Q628.3,376.7 626,377.7 Z" stroke-width="1.5" stroke="#1a1a1a"/>
<path d="M607.4,382.85 Q605.1,382.05 606.9,380.45000000000005 L626.5,379.45000000000005 Q628.3,381.05 626,382.05 Z" stroke-width="1.5" stroke="#1a1a1a"/>
<path d="M607.4,387.2 Q605.1,386.4 606.9,384.8 L626.5,383.8 Q628.3,385.4 626,386.4 Z" stroke-width="1.5" stroke="#1a1a1a"/>
<path d="M607.4,391.55 Q605.1,390.75 606.9,389.15000000000003 L626.5,388.15000000000003 Q628.3,389.75 626,390.75 Z" stroke-width="1.5" stroke="#1a1a1a"/>
<path d="M607.4,395.9 Q605.1,395.09999999999997 606.9,393.5 L626.5,392.5 Q628.3,394.09999999999997 626,395.09999999999997 Z" stroke-width="1.5" stroke="#1a1a1a"/>
<path d="M607.4,400.25 Q605.1,399.45 606.9,397.85 L626.5,396.85 Q628.3,398.45 626,399.45 Z" stroke-width="1.5" stroke="#1a1a1a"/>
<path d="M607.4,404.6 Q605.1,403.8 606.9,402.20000000000005 L626.5,401.20000000000005 Q628.3,402.8 626,403.8 Z" stroke-width="1.5" stroke="#1a1a1a"/>
<path d="M607.4,408.95 Q605.1,408.15 606.9,406.55 L626.5,405.55 Q628.3,407.15 626,408.15 Z" stroke-width="1.5" stroke="#1a1a1a"/>
<line x1="613.2" y1="374.3" x2="613.2" y2="391.7"/>
<line x1="618.4" y1="374.3" x2="618.4" y2="391.7"/>
<path d="M601.8,409.5 L631.8,409.5 L635.6,415.5 L635.8,421.5 L632.2,442.5 Q631.5,445.3 628.5,445.3 L604.5,445.3 Q601.5,445.3 601,442.5 L597.3,421.5 L597.5,415.5 Z" fill="#fff"/>
<path d="M598.3,416.0 L605.3,416.0 L607.5999999999999,419.5 L607.5999999999999,423.5 L605.3,427.0 L598.3,427.0 L596.0,423.5 L596.0,419.5 Z" />
<circle cx="601.8" cy="421.5" r="3" />
<circle cx="601.8" cy="421.5" r="1.4" />
<path d="M626.8,416.0 L633.8,416.0 L636.0999999999999,419.5 L636.0999999999999,423.5 L633.8,427.0 L626.8,427.0 L624.5,423.5 L624.5,419.5 Z" />
<circle cx="630.3" cy="421.5" r="3" />
<circle cx="630.3" cy="421.5" r="1.4" />
<path d="M608.70,445.30 C608.58,446.42 609.22,449.77 608.00,452.00 C606.78,454.23 604.07,456.03 601.40,458.70 C598.73,461.37 594.45,464.45 592.00,468.00 C589.55,471.55 587.70,476.67 586.70,480.00 C585.70,483.33 585.57,484.67 586.00,488.00 C586.43,491.33 587.18,496.20 589.30,500.00 C591.42,503.80 594.47,508.33 598.70,510.80 C602.93,513.27 609.58,514.80 614.70,514.80 C619.82,514.80 625.62,512.82 629.40,510.80 C633.18,508.78 635.63,505.60 637.40,502.70 C639.17,499.80 639.45,497.18 640.00,493.40 C640.55,489.62 640.53,483.27 640.70,480.00 C640.87,476.73 641.22,475.13 641.00,473.80 C640.78,472.47 640.23,471.85 639.40,472.00 C638.57,472.15 637.45,473.13 636.00,474.70 C634.55,476.27 632.25,479.52 630.70,481.40 C629.15,483.28 627.37,485.23 626.70,486.00" />
<path d="M623.40,486.00 C623.73,486.78 626.18,488.92 625.40,490.70 C624.62,492.48 620.70,495.65 618.70,496.70 C616.70,497.75 615.28,497.67 613.40,497.00 C611.52,496.33 608.85,494.87 607.40,492.70 C605.95,490.53 604.82,486.45 604.70,484.00 C604.58,481.55 605.48,480.22 606.70,478.00 C607.92,475.78 610.00,473.47 612.00,470.70 C614.00,467.93 617.13,463.40 618.70,461.40 C620.27,459.40 620.95,459.15 621.40,458.70" />
<path d="M607.80,468.10 C606.67,470.08 602.38,476.25 601.00,480.00 C599.62,483.75 599.17,487.60 599.50,490.60 C599.83,493.60 601.13,496.20 603.00,498.00 C604.87,499.80 609.42,500.83 610.70,501.40" />
<path d="M606.5,481 Q604.5,487 607,492.5" />
<path d="M622.8,454.6 L622.8,486 L627.3,486 L627.3,454.6" />
<line x1="631" y1="449" x2="631" y2="472"/>
<circle cx="621.3" cy="450.8" r="2" stroke-width="1.3"/>
<rect x="624.3" y="448.6" width="6.0" height="6.0" />
<path d="M617.5,465 L619.5,458 M619,468 L620,462" />
<line x1="608.5" y1="426.8" x2="676.9" y2="490.6"/>
<path d="M630.30,446.30 L625.87,443.13 L621.44,441.29 L615.23,436.07 L619.05,431.97 L624.68,437.81 L626.83,442.10 Z" fill="#000" stroke="none"/>
<path d="M646.80,462.80 L651.88,466.59 L656.87,468.94 L664.07,475.08 L660.25,479.17 L653.62,472.42 L650.93,467.61 Z" fill="#000" stroke="none"/>
<line x1="633.3" y1="474.9" x2="646.8" y2="462.8"/>
<text fill="#000" stroke="none" font-weight="bold" x="0" y="0" font-size="7.5" transform="translate(611.3,440) rotate(-15)">Z</text>
<text fill="#000" stroke="none" font-weight="bold" x="0" y="0" font-size="6" transform="translate(640.5,453.5) rotate(-40)">A</text>
</g>
</svg>
</body></html>
